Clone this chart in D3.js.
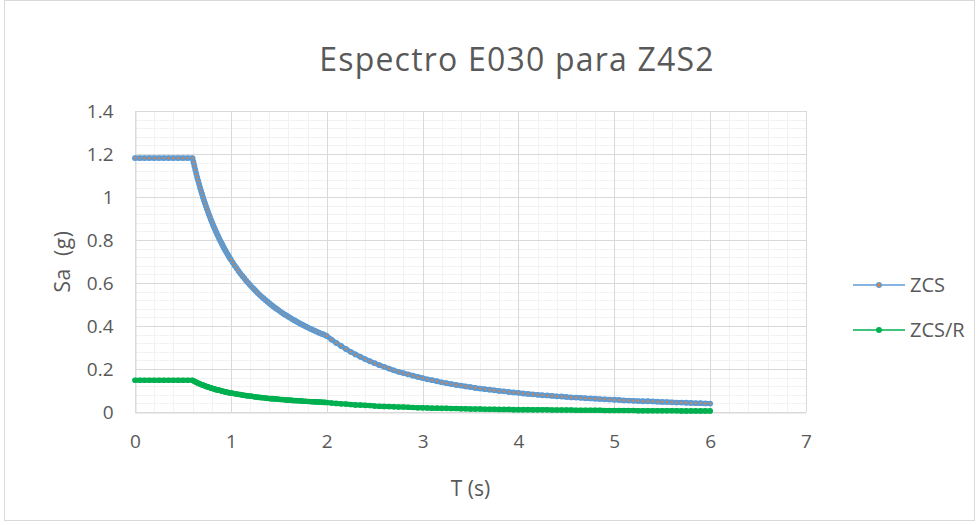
<!DOCTYPE html>
<html>
<head>
<meta charset="utf-8">
<script src="https://cdn.jsdelivr.net/npm/d3@7"></script>
<style>
  html, body { margin: 0; padding: 0; background: #fff; }
  svg { display: block; font-family: "Open Sans", Lato, "Liberation Sans", sans-serif; }
</style>
</head>
<body>
<svg id="chart" width="979" height="525"></svg>
<script>
// Period T (s) of each spectrum point
const periods = [
  0.00,0.05,0.10,0.15,0.20,0.25,0.30,0.35,0.40,0.45,0.50,0.55,0.60,
  0.61,0.62,0.63,0.64,0.65,0.66,0.67,0.68,0.69,0.70,0.71,0.72,0.73,0.74,0.75,0.76,0.77,0.78,0.79,0.80,
  0.81,0.82,0.83,0.84,0.85,0.86,0.87,0.88,0.89,0.90,0.91,0.92,0.93,0.94,0.95,0.96,0.97,0.98,0.99,1.00,
  1.02,1.04,1.06,1.08,1.10,1.12,1.14,1.16,1.18,1.20,1.22,1.24,1.26,1.28,1.30,1.32,1.34,1.36,1.38,1.40,
  1.42,1.44,1.46,1.48,1.50,1.52,1.54,1.56,1.58,1.60,1.62,1.64,1.66,1.68,1.70,1.72,1.74,1.76,1.78,1.80,
  1.82,1.84,1.86,1.88,1.90,1.92,1.94,1.96,1.98,2.00,
  2.05,2.10,2.15,2.20,2.25,2.30,2.35,2.40,2.45,2.50,2.55,2.60,2.65,2.70,2.75,2.80,2.85,2.90,2.95,3.00,
  3.05,3.10,3.15,3.20,3.25,3.30,3.35,3.40,3.45,3.50,3.55,3.60,3.65,3.70,3.75,3.80,3.85,3.90,3.95,4.00,
  4.05,4.10,4.15,4.20,4.25,4.30,4.35,4.40,4.45,4.50,4.55,4.60,4.65,4.70,4.75,4.80,4.85,4.90,4.95,5.00,
  5.05,5.10,5.15,5.20,5.25,5.30,5.35,5.40,5.45,5.50,5.55,5.60,5.65,5.70,5.75,5.80,5.85,5.90,5.95,6.00
];

// Elastic spectral acceleration ZCS (g)
const zcs = [
  1.181,1.181,1.181,1.181,1.181,1.181,1.181,1.181,1.181,1.181,1.181,1.181,1.181,
  1.162,1.143,1.125,1.107,1.090,1.074,1.058,1.042,1.027,1.013,0.998,0.984,0.971,0.958,0.945,0.933,0.920,0.909,0.897,0.886,
  0.875,0.864,0.854,0.844,0.834,0.824,0.815,0.805,0.796,0.788,0.779,0.770,0.762,0.754,0.746,0.738,0.731,0.723,0.716,0.709,
  0.695,0.681,0.669,0.656,0.644,0.633,0.622,0.611,0.601,0.591,0.581,0.572,0.563,0.554,0.545,0.537,0.529,0.521,0.514,0.506,
  0.499,0.492,0.485,0.479,0.473,0.466,0.460,0.454,0.449,0.443,0.438,0.432,0.427,0.422,0.417,0.412,0.407,0.403,0.398,0.394,
  0.389,0.385,0.381,0.377,0.373,0.369,0.365,0.362,0.358,0.354,
  0.337,0.321,0.307,0.293,0.280,0.268,0.257,0.246,0.236,0.227,0.218,0.210,0.202,0.194,0.187,0.181,0.175,0.169,0.163,0.158,
  0.152,0.148,0.143,0.138,0.134,0.130,0.126,0.123,0.119,0.116,0.112,0.109,0.106,0.104,0.101,0.098,0.096,0.093,0.091,0.089,
  0.086,0.084,0.082,0.080,0.078,0.077,0.075,0.073,0.072,0.070,0.068,0.067,0.066,0.064,0.063,0.062,0.060,0.059,0.058,0.057,
  0.056,0.054,0.053,0.052,0.051,0.050,0.050,0.049,0.048,0.047,0.046,0.045,0.044,0.044,0.043,0.042,0.041,0.041,0.040,0.039
];

// Reduced (design) spectral acceleration ZCS/R (g)
const zcsR = [
  0.148,0.148,0.148,0.148,0.148,0.148,0.148,0.148,0.148,0.148,0.148,0.148,0.148,
  0.145,0.143,0.141,0.138,0.136,0.134,0.132,0.130,0.128,0.127,0.125,0.123,0.121,0.120,0.118,0.117,0.115,0.114,0.112,0.111,
  0.109,0.108,0.107,0.105,0.104,0.103,0.102,0.101,0.100,0.098,0.097,0.096,0.095,0.094,0.093,0.092,0.091,0.090,0.089,0.089,
  0.087,0.085,0.084,0.082,0.081,0.079,0.078,0.076,0.075,0.074,0.073,0.071,0.070,0.069,0.068,0.067,0.066,0.065,0.064,0.063,
  0.062,0.062,0.061,0.060,0.059,0.058,0.058,0.057,0.056,0.055,0.055,0.054,0.053,0.053,0.052,0.052,0.051,0.050,0.050,0.049,
  0.049,0.048,0.048,0.047,0.047,0.046,0.046,0.045,0.045,0.044,
  0.042,0.040,0.038,0.037,0.035,0.033,0.032,0.031,0.030,0.028,0.027,0.026,0.025,0.024,0.023,0.023,0.022,0.021,0.020,0.020,
  0.019,0.018,0.018,0.017,0.017,0.016,0.016,0.015,0.015,0.014,0.014,0.014,0.013,0.013,0.013,0.012,0.012,0.012,0.011,0.011,
  0.011,0.011,0.010,0.010,0.010,0.010,0.009,0.009,0.009,0.009,0.009,0.008,0.008,0.008,0.008,0.008,0.008,0.007,0.007,0.007,
  0.007,0.007,0.007,0.007,0.006,0.006,0.006,0.006,0.006,0.006,0.006,0.006,0.006,0.005,0.005,0.005,0.005,0.005,0.005,0.005
];

const seriesNames = ["ZCS", "ZCS/R"];
const xTicks = [0, 1, 2, 3, 4, 5, 6, 7];
const yTicks = [0, 0.2, 0.4, 0.6, 0.8, 1, 1.2, 1.4];
const titleText = "Espectro E030 para Z4S2";
const xTitle = "T (s)";
const yTitle = "Sa  (g)";

const svg = d3.select("#chart");
const W = 979, H = 525;
const plot = { left: 135, right: 806, top: 111, bottom: 412 };

const x = d3.scaleLinear().domain([0, 7]).range([plot.left, plot.right]);
const y = d3.scaleLinear().domain([0, 1.4]).range([plot.bottom, plot.top]);

const textColor = "#595959";
const fontStack = "'Open Sans', Lato, sans-serif";

// outer chart frame
svg.append("rect")
  .attr("x", 4.5).attr("y", 0.5).attr("width", W - 9).attr("height", H - 5)
  .attr("fill", "#fff").attr("stroke", "#D9D9D9").attr("stroke-width", 1);

// minor gridlines
const minorX = d3.range(0, 7.0001, 0.2).filter(v => Math.abs(v - Math.round(v)) > 1e-6);
const minorY = d3.range(0, 1.4001, 0.04).filter(v => Math.abs(v / 0.2 - Math.round(v / 0.2)) > 1e-6);
const grid = svg.append("g");
grid.selectAll("line.mx").data(minorX).join("line")
  .attr("x1", d => Math.round(x(d)) + 0.5).attr("x2", d => Math.round(x(d)) + 0.5)
  .attr("y1", plot.top).attr("y2", plot.bottom)
  .attr("stroke", "#F2F2F2").attr("stroke-width", 1);
grid.selectAll("line.my").data(minorY).join("line")
  .attr("y1", d => Math.round(y(d)) + 0.5).attr("y2", d => Math.round(y(d)) + 0.5)
  .attr("x1", plot.left).attr("x2", plot.right)
  .attr("stroke", "#F2F2F2").attr("stroke-width", 1);

// major gridlines
grid.selectAll("line.gx").data(xTicks).join("line")
  .attr("x1", d => Math.round(x(d)) + 0.5).attr("x2", d => Math.round(x(d)) + 0.5)
  .attr("y1", plot.top).attr("y2", plot.bottom)
  .attr("stroke", "#D9D9D9").attr("stroke-width", 1);
grid.selectAll("line.gy").data(yTicks).join("line")
  .attr("y1", d => Math.round(y(d)) + 0.5).attr("y2", d => Math.round(y(d)) + 0.5)
  .attr("x1", plot.left).attr("x2", plot.right)
  .attr("stroke", "#D9D9D9").attr("stroke-width", 1);

// axes
const xAxis = svg.append("g")
  .attr("transform", `translate(0,${plot.bottom + 0.5})`)
  .call(d3.axisBottom(x).tickValues(xTicks).tickSize(0).tickPadding(22).tickFormat(d3.format("d")));
const yAxis = svg.append("g")
  .attr("transform", `translate(${plot.left + 0.5},0)`)
  .call(d3.axisLeft(y).tickValues(yTicks).tickSize(0).tickPadding(22).tickFormat(d => String(d)));
[xAxis, yAxis].forEach(g => {
  g.select(".domain").attr("stroke", "#D9D9D9").attr("stroke-width", 1);
  g.selectAll("text").attr("fill", textColor).attr("font-size", 19)
    .attr("font-family", fontStack);
});

// series data
const data1 = periods.map((t, i) => ({ t, v: zcs[i] }));
const data2 = periods.map((t, i) => ({ t, v: zcsR[i] }));
const line = d3.line().x(d => x(d.t)).y(d => y(d.v));

const blue = "#5B9BD5", orange = "#ED7D31", green = "#00B050";

// ZCS/R: line with dense markers forming a solid band
svg.append("path").datum(data2).attr("d", line)
  .attr("fill", "none").attr("stroke", green).attr("stroke-width", 5)
  .attr("stroke-linejoin", "round").attr("stroke-linecap", "round");
svg.append("g").selectAll("circle").data(data2).join("circle")
  .attr("cx", d => x(d.t)).attr("cy", d => y(d.v)).attr("r", 2.2)
  .attr("fill", green).attr("stroke", green).attr("stroke-width", 1.2);

// ZCS: blue line, orange markers with blue outline
svg.append("path").datum(data1).attr("d", line)
  .attr("fill", "none").attr("stroke", blue).attr("stroke-width", 5)
  .attr("stroke-linejoin", "round").attr("stroke-linecap", "round");
svg.append("g").selectAll("circle").data(data1).join("circle")
  .attr("cx", d => x(d.t)).attr("cy", d => y(d.v)).attr("r", 2.1)
  .attr("fill", orange).attr("fill-opacity", 0.7)
  .attr("stroke", blue).attr("stroke-width", 1.6);

// title
svg.append("text").attr("x", 517).attr("y", 71).attr("text-anchor", "middle")
  .attr("fill", textColor).attr("font-size", 32).attr("letter-spacing", 1.2)
  .attr("font-family", fontStack).text(titleText);

// axis titles
svg.append("text").attr("x", x(3.5)).attr("y", 496).attr("text-anchor", "middle")
  .attr("fill", textColor).attr("font-size", 21).attr("font-family", fontStack).text(xTitle);
svg.append("text").attr("transform", `translate(70,${(plot.top + plot.bottom) / 2}) rotate(-90)`)
  .attr("text-anchor", "middle").attr("fill", textColor).attr("font-size", 21)
  .attr("letter-spacing", 0.6).attr("font-family", fontStack)
  .attr("xml:space", "preserve").text(yTitle);

// legend
const legend = svg.append("g");
const legendItems = [
  { name: seriesNames[0], line: blue, fill: orange, stroke: blue, y: 285 },
  { name: seriesNames[1], line: green, fill: green, stroke: green, y: 330 }
];
legendItems.forEach(it => {
  legend.append("line").attr("x1", 853).attr("x2", 905).attr("y1", it.y).attr("y2", it.y)
    .attr("stroke", it.line).attr("stroke-width", 1.5);
  legend.append("circle").attr("cx", 879).attr("cy", it.y).attr("r", 2.3)
    .attr("fill", it.fill).attr("stroke", it.stroke).attr("stroke-width", 1.3);
  legend.append("text").attr("x", 910).attr("y", it.y + 7).attr("fill", textColor)
    .attr("font-size", 20).attr("font-family", fontStack).text(it.name);
});
</script>
</body>
</html>
